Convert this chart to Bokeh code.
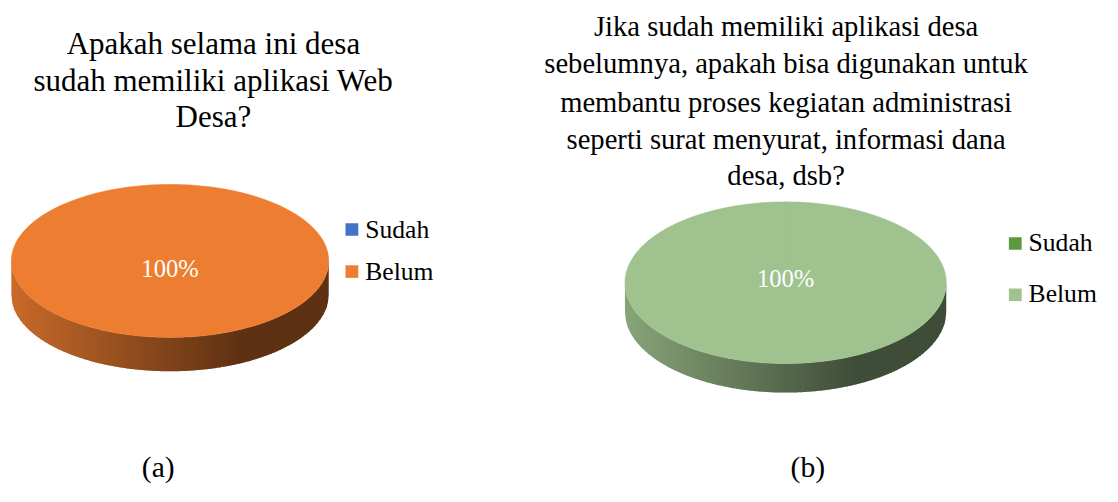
import numpy as np
from bokeh.plotting import figure
from bokeh.models import Range1d
from bokeh.core.properties import value
from bokeh.embed import file_html
from bokeh.resources import INLINE

# ---------------- data ----------------
categories = ["Sudah", "Belum"]
values_a = [0, 100]
values_b = [0, 100]
colors_a = ["#4472C4", "#ED7D31"]
colors_b = ["#5A9A3C", "#A0C28E"]
title_a = ["Apakah selama ini desa", "sudah memiliki aplikasi Web", "Desa?"]
title_b = ["Jika sudah memiliki aplikasi desa",
           "sebelumnya, apakah bisa digunakan untuk",
           "membantu proses kegiatan administrasi",
           "seperti surat menyurat, informasi dana",
           "desa, dsb?"]
captions = ["(a)", "(b)"]

FONT = value("Liberation Serif")

W, H = 1102, 486
REF_W, REF_H = 1118, 502
S = W / REF_W  # frame scale: whole reference frame mapped into the figure


def fs(px):
    return value("%.1fpx" % (px * S))


p = figure(width=W, height=H, x_range=Range1d(0, REF_W), y_range=Range1d(REF_H, 0),
           output_backend="svg", toolbar_location=None, min_border=0,
           x_axis_location=None, y_axis_location=None)
p.grid.visible = False
p.outline_line_color = None
p.background_fill_color = "white"
p.border_fill_color = "white"


def hex2rgb(h):
    h = h.lstrip("#")
    return tuple(int(h[i:i + 2], 16) for i in (0, 2, 4))


def shade(h, f):
    r, g, b = hex2rgb(h)
    return "#%02x%02x%02x" % (int(r * f), int(g * f), int(b * f))


def pie3d(cx, cy, a, b, depth, vals, cols, label_dy, pct_size):
    total = float(sum(vals))
    start = 0.0
    slices = []
    for v, c in zip(vals, cols):
        if v <= 0:
            continue
        ang = 2 * np.pi * v / total
        slices.append((start, start + ang, c, v))
        start += ang
    # side: strips uniform in x across the front half of the ellipse
    N = 110
    xe = np.linspace(cx - a, cx + a, N + 1)
    xs_l, ys_l, fc = [], [], []
    for i in range(N):
        x0 = xe[i]
        x1 = min(xe[i + 1] + 0.9, cx + a)
        xx = np.linspace(x0, x1, 5)
        u = np.clip((xx - cx) / a, -1, 1)
        th = np.pi - np.arcsin(u)  # front half: theta in [pi/2, 3pi/2]
        th_mid = np.pi - np.arcsin(np.clip((0.5 * (xe[i] + xe[i + 1]) - cx) / a, -1, 1))
        col = None
        for s0, s1, c, v in slices:
            if s0 <= th_mid <= s1:
                col = c
        if col is None:
            continue
        yt = cy - b * np.cos(th)
        xs_l.append(list(xx) + list(xx[::-1]))
        ys_l.append(list(yt) + list((yt + depth)[::-1]))
        xm = 0.5 * (xe[i] + xe[i + 1])
        t = np.clip((xm - (cx - a)) / (2 * a * 0.72), 0, 1)
        f = 0.85 - 0.45 * t
        fc.append(shade(col, f))
    p.patches(xs_l, ys_l, fill_color=fc, line_color=None)
    # top face
    for s0, s1, c, v in slices:
        th = np.linspace(s0, s1, 240)
        xs = [cx] + list(cx + a * np.sin(th))
        ys = [cy] + list(cy - b * np.cos(th))
        p.patch(xs, ys, fill_color=c, line_color=c, line_width=0.5)
        mid = 0.5 * (s0 + s1)
        if s1 - s0 >= 2 * np.pi - 1e-9:
            lx, ly = cx, cy
        else:
            lx, ly = cx + 0.6 * a * np.sin(mid), cy - 0.6 * b * np.cos(mid)
        p.text([lx], [ly + label_dy], text=["%d%%" % round(100 * v / total)],
               text_font=FONT, text_font_size=fs(pct_size), text_color="white",
               text_align="center", text_baseline="middle")


# chart (a)
pie3d(172, 269, 161, 79, 35, values_a, colors_a, 8, 25)
p.text([216] * 3, [44.5, 82.5, 120], text=title_a, text_font=FONT,
       text_font_size=fs(31.5), text_align="center", text_baseline="middle",
       text_color="black")
p.rect([356.5, 356.5], [236.5, 280], width=13, height=13, fill_color=colors_a, line_color=None)
p.text([370, 370], [236.5, 279.5], text=categories, text_font=FONT, text_font_size=fs(26),
       text_align="left", text_baseline="middle", text_color="black")

# chart (b)
pie3d(796.5, 291.5, 163, 83.5, 30, values_b, colors_b, -4, 25)
p.text([797] * 5, [26.5, 65.5, 105, 143.5, 180.5], text=title_b, text_font=FONT,
       text_font_size=fs(29), text_align="center", text_baseline="middle",
       text_color="black")
p.rect([1029.5, 1029.5], [251, 304], width=13, height=13, fill_color=colors_b, line_color=None)
p.text([1043, 1043], [250, 303], text=categories, text_font=FONT, text_font_size=fs(26),
       text_align="left", text_baseline="middle", text_color="black")

# captions
p.text([160, 819], [482, 482], text=captions, text_font=FONT, text_font_size=fs(30),
       text_align="center", text_baseline="middle", text_color="black")

open("out.html", "w").write(file_html(p, INLINE))
